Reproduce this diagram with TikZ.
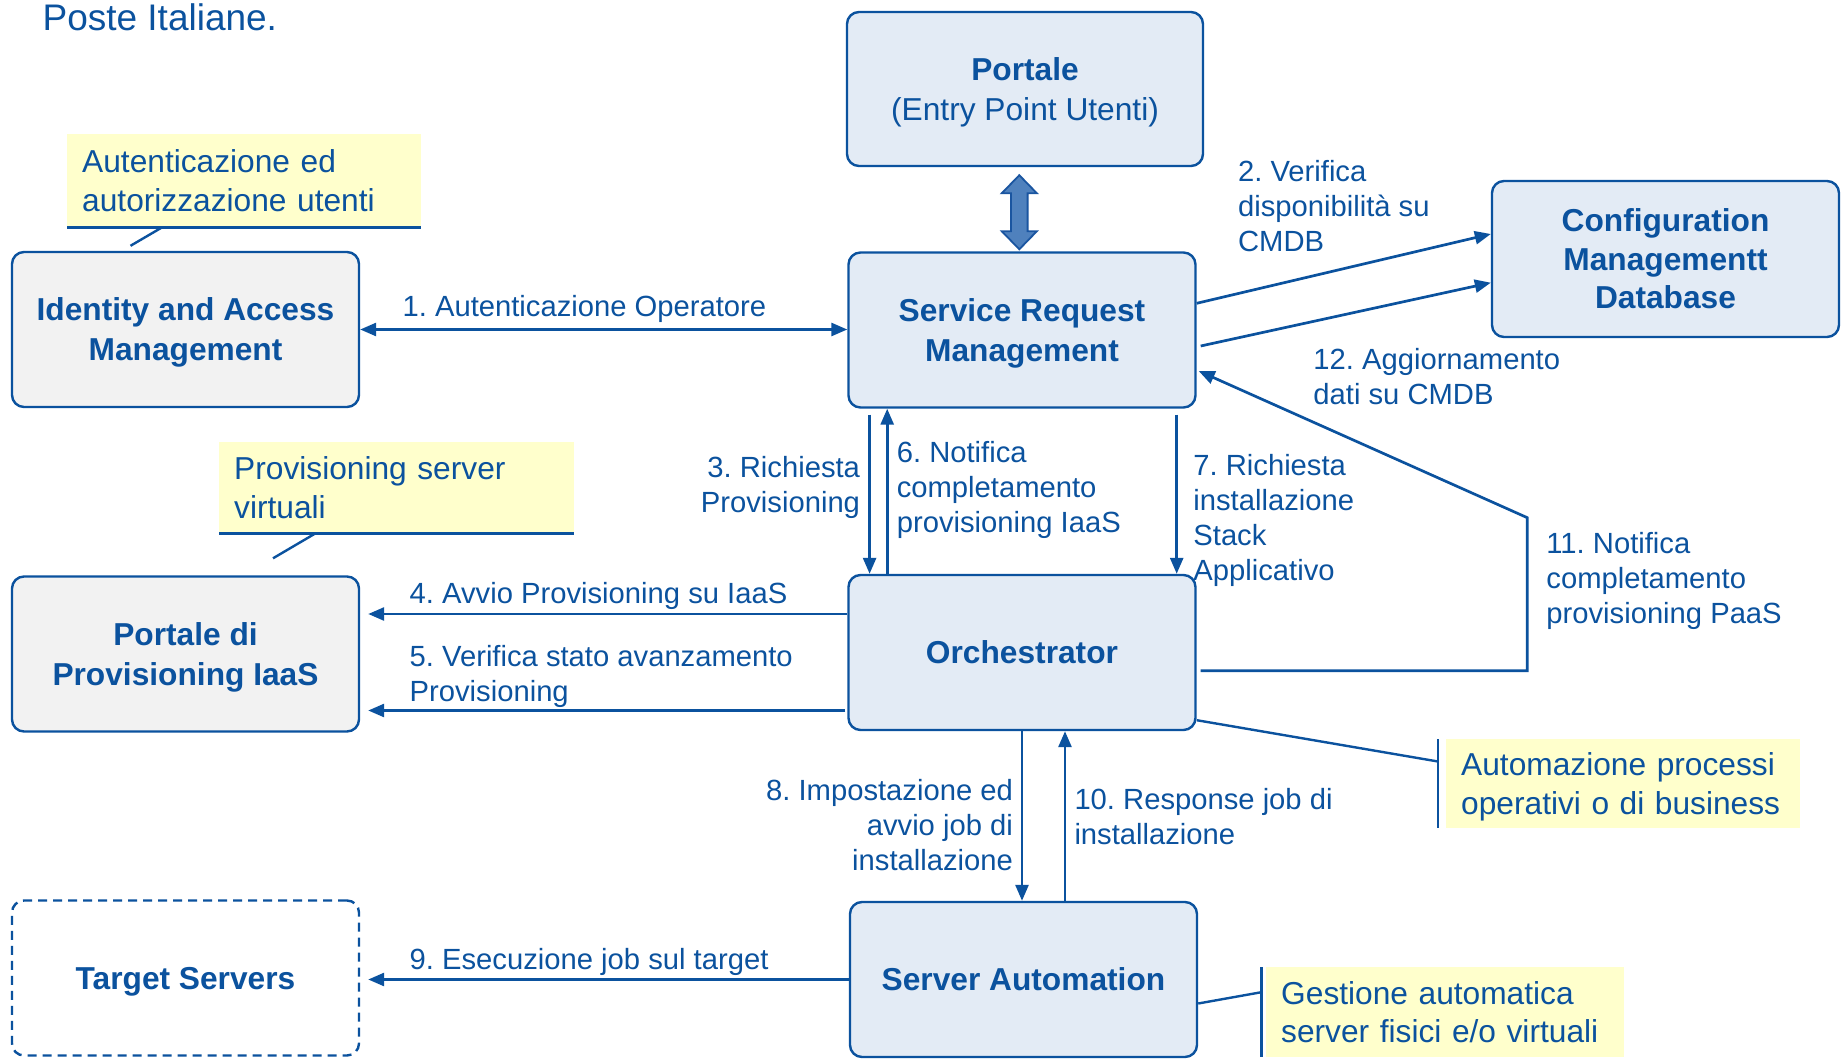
\documentclass[tikz,border=0pt]{standalone}
\usepackage{fontspec}
\setmainfont{Liberation Sans}
\frenchspacing
\usetikzlibrary{arrows.meta,calc}

\definecolor{ink}{HTML}{0B529E}
\definecolor{panelblue}{HTML}{E3EBF5}
\definecolor{panelgray}{HTML}{F2F2F2}
\definecolor{notefill}{HTML}{FFFFCC}
\definecolor{blockfill}{HTML}{4F81BD}
\definecolor{blockedge}{HTML}{1A55A0}

\newcommand\lblfont{\fontsize{29.2}{35}\selectfont}
\newcommand\pnlfont{\fontsize{31.7}{40}\selectfont}
\newcommand\ntfont{\fontsize{31.7}{38.5}\selectfont}

\tikzset{
  Head/.tip={Triangle[length=16pt,width=13pt]},
  panel/.style={draw=ink, line width=2.4pt, rounded corners=12pt,
    minimum width=347pt, minimum height=155pt, align=center,
    text=ink, font=\pnlfont\bfseries, inner sep=0pt, text depth=0pt},
  bluepanel/.style={panel, fill=panelblue},
  graypanel/.style={panel, fill=panelgray},
  msg/.style={text=ink, font=\lblfont, inner sep=0pt},
  flow/.style={draw=ink, line width=2.7pt, -Head},
  flowboth/.style={draw=ink, line width=2.7pt, Head-Head},
  note/.style={fill=notefill, text=ink, font=\ntfont, align=left,
    inner xsep=15pt, inner ysep=0pt, anchor=north west},
  noteline/.style={draw=ink, line width=2.7pt},
  leader/.style={draw=ink, line width=2.4pt},
}

\begin{document}
\begin{tikzpicture}[x=1pt,y=-1pt]
\useasboundingbox (0,0) rectangle (1845,1059);

% heading
\node[anchor=base west, text=ink, font=\fontsize{37}{44}\selectfont, inner sep=0pt]
  (title) at (42.4,31) {Poste Italiane.};

% components
\node[bluepanel, minimum width=356pt, minimum height=154pt] (portal) at (1025,89)
  {Portale\\\mdseries(Entry Point Utenti)};
\node[graypanel] (iam) at (185.5,329.5) {Identity and Access\\Management};
\node[bluepanel] (srm) at (1022,330) {Service Request\\Management};
\node[bluepanel, minimum height=156pt, font=\fontsize{31.7}{38.5}\selectfont\bfseries] (cmdb) at (1665.5,259)
  {Configuration\\Managementt\\Database};
\node[graypanel] (iaas) at (185.5,654) {Portale di\\Provisioning IaaS};
\node[bluepanel] (orch) at (1022,652.5) {Orchestrator};
\node[panel, fill=white, dash pattern=on 9pt off 6pt] (target) at (185.5,978)
  {Target Servers};
\node[bluepanel] (sa) at (1023.5,979.5) {Server Automation};

% annotations
\node[note, minimum width=354pt, minimum height=93pt, text width=324pt] (noteA) at (67,134)
  {Autenticazione ed\\autorizzazione utenti};
\node[note, minimum width=355pt, minimum height=91pt, text width=325pt] (noteB) at (219,442)
  {Provisioning server\\virtuali};
\node[note, minimum width=354pt, minimum height=89pt, text width=324pt, text depth=38.5pt] (noteC) at (1446,739)
  {Automazione processi\\operativi o di business};
\node[note, minimum width=358pt, minimum height=90pt, text width=328pt] (noteD) at (1266,967)
  {Gestione automatica\\server fisici e/o virtuali};

\draw[noteline] (noteA.south west) -- (noteA.south east);
\draw[noteline] (noteB.south west) -- (noteB.south east);
\draw[noteline] ($(noteC.north west)+(-8,0)$) -- ($(noteC.south west)+(-8,0)$);
\draw[noteline] ($(noteD.north west)+(-4.6,0)$) -- ($(noteD.south west)+(-4.6,0)$);

\draw[leader] ($(noteA.south west)+(95,0)$) -- ($(iam.north)+(-55,-5)$);
\draw[leader] ($(noteB.south west)+(96.4,0)$) -- ($(iaas.north)+(87.5,-17)$);
\draw[leader] ($(orch.south east)+(0,-11)$) -- ($(noteC.west)+(-8,-22.2)$);
\draw[leader] ($(sa.east)+(0,24)$) -- ($(noteD.west)+(-4.6,-20)$);

% portal <-> service request block arrow
\coordinate (bt) at ($(portal.south)+(-5.7,8)$);
\coordinate (bb) at ($(srm.north)+(-2.7,-2)$);
\filldraw[fill=blockfill, draw=blockedge, line width=1.8pt, line join=miter]
  (bt) -- ++(17.5,18) -- ++(-9.2,0) -- ($(bb)+(8.3,-18)$) -- ++(9.2,0) -- (bb)
  -- ++(-17.5,-18) -- ++(9.2,0) -- ($(bt)+(-8.3,18)$) -- ++(-9.2,0) -- cycle;

% message flows
\draw[flowboth] (iam.east) -- (iam.east -| srm.west);
\draw[flow] ($(srm.east)+(0,-26.7)$) -- ($(cmdb.west)+(0,-25)$);
\draw[flow] ($(srm.east)+(4,16)$) -- ($(cmdb.west)+(0,23.7)$);

\coordinate (k11) at (1527.3,517.7);
\draw[flow] ($(orch.east)+(4,18.2)$) -| (k11) -- ($(srm.east)+(2,41)$);

\coordinate (x3) at ($(srm.south)+(-152.4,6)$);
\draw[flow] (x3) -- (x3 |- orch.north);
\coordinate (x6) at ($(srm.south)+(-134.8,0)$);
\draw[flow] (x6 |- orch.north) -- (x6);
\coordinate (x7) at ($(srm.south)+(154.7,6)$);
\draw[flow] (x7) -- (x7 |- orch.north);

\coordinate (s4) at ($(orch.west)+(0,-38.5)$);
\coordinate (e4) at ($(s4 -| iaas.east)+(8,0)$);
\draw[flow] (s4) -- (e4);
\coordinate (s5) at ($(orch.west)+(-2,58)$);
\coordinate (e5) at ($(s5 -| iaas.east)+(8,0)$);
\draw[flow] (s5) -- (e5);

\draw[flow] (orch.south) -- (orch.south |- sa.north);
\coordinate (x10) at ($(orch.south)+(43,0)$);
\draw[flow] (x10 |- sa.north) -- (x10);

\coordinate (e9) at ($(sa.west -| target.east)+(8,0)$);
\draw[flow] (sa.west) -- (e9);

% message labels (anchored on the baseline of their last line)
\node[msg, anchor=base west] (m1) at (402.4,316.5) {1. Autenticazione Operatore};
\node[msg, anchor=base west, align=left] (m2) at (1237.9,251.2) {2. Verifica\\disponibilità su\\CMDB};
\node[msg, anchor=base west, align=left] (m12) at (1313.2,404.5) {12. Aggiornamento\\dati su CMDB};
\node[msg, anchor=base west, align=left] (m11) at (1546.2,623) {11. Notifica\\completamento\\provisioning PaaS};
\node[msg, anchor=base east, align=right] (m3) at (860.2,512.7) {3. Richiesta\\Provisioning};
\node[msg, anchor=base west, align=left] (m6) at (896.6,532.4) {6. Notifica\\completamento\\provisioning IaaS};
\node[msg, anchor=base west, align=left] (m7) at (1193.2,580.4) {7. Richiesta\\installazione\\Stack\\Applicativo};
\node[msg, anchor=base west] (m4) at (409.5,603.6) {4. Avvio Provisioning su IaaS};
\node[msg, anchor=base west, align=left] (m5) at (409.5,701) {5. Verifica stato avanzamento\\Provisioning};
\node[msg, anchor=base east, align=right] (m8) at (1013.1,870.2) {8. Impostazione ed\\avvio job di\\installazione};
\node[msg, anchor=base west, align=left] (m10) at (1074.3,844.6) {10. Response job di\\installazione};
\node[msg, anchor=base west] (m9) at (409.5,969.6) {9. Esecuzione job sul target};
\end{tikzpicture}
\end{document}
